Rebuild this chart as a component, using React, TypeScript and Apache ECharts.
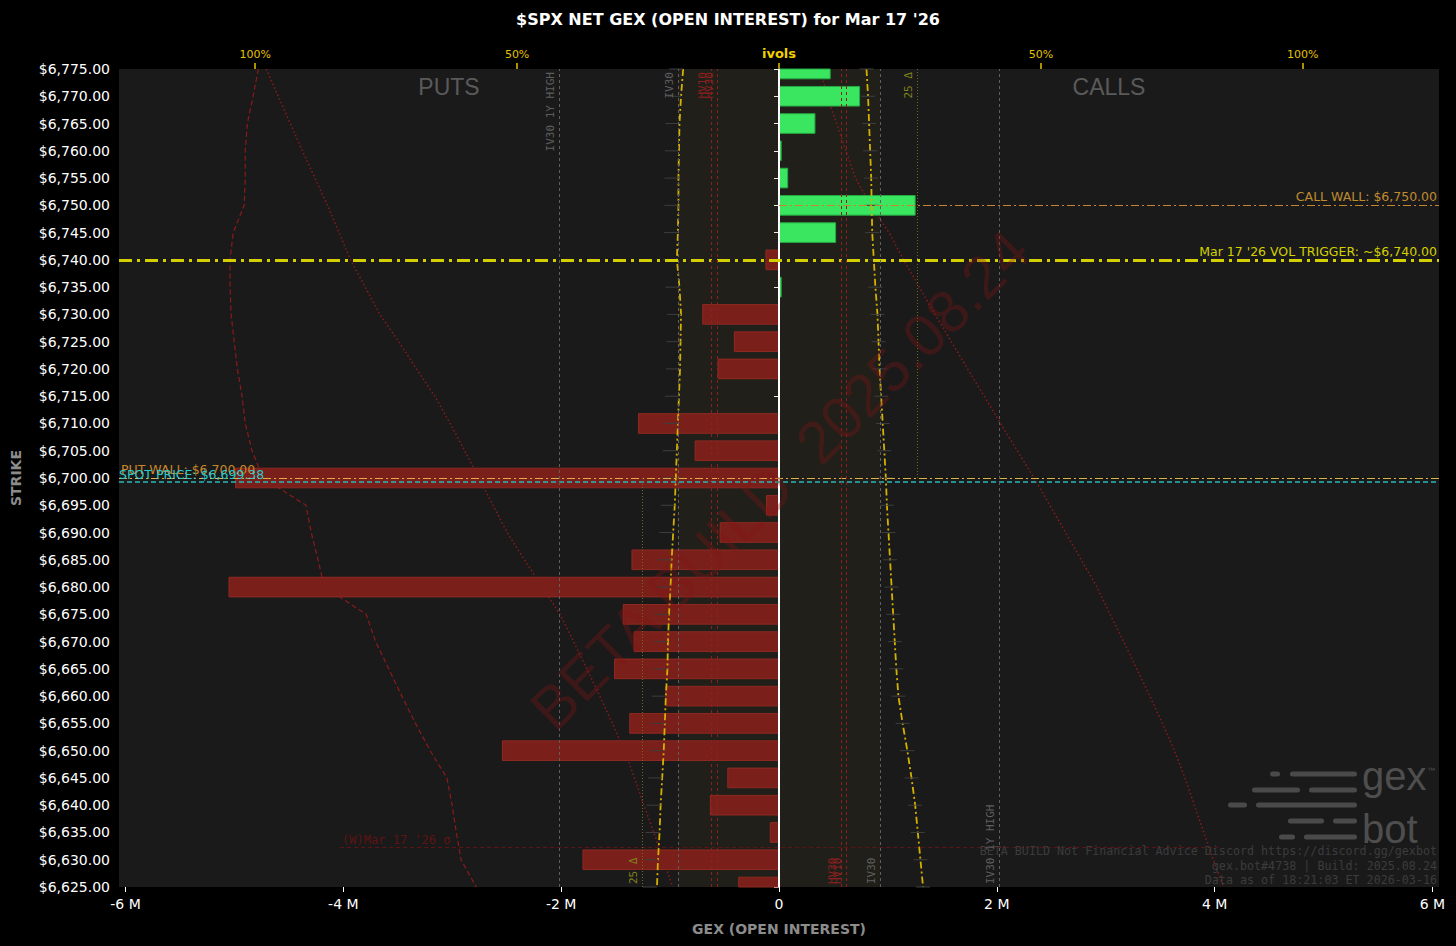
import { useEffect, useRef } from 'react'
import * as echarts from 'echarts'

// strikes, top to bottom
const strikes = [
  6775, 6770, 6765, 6760, 6755, 6750, 6745, 6740, 6735, 6730, 6725, 6720, 6715, 6710, 6705, 6700,
  6695, 6690, 6685, 6680, 6675, 6670, 6665, 6660, 6655, 6650, 6645, 6640, 6635, 6630, 6625,
]

// net GEX per strike (millions)
const netGex = [
  0.47, 0.74, 0.33, 0.02, 0.08, 1.25, 0.52, -0.12, 0.02, -0.7, -0.41, -0.56, 0, -1.29, -0.77, -4.99,
  -0.115, -0.54, -1.35, -5.05, -1.43, -1.33, -1.51, -1.04, -1.37, -2.54, -0.47, -0.63, -0.08, -1.8, -0.37,
]

// ivols (%), put side is drawn to the left
const putIvOuter = [
  99.4, 100.4, 101.5, 101.9, 101.9, 102.1, 104.2, 104.8, 104.8, 104.6, 104.0, 103.4, 102.5, 101.9, 100.6, 98.5,
  90.3, 89.3, 88.0, 86.8, 78.8, 77.0, 74.5, 72.0, 69.4, 66.6, 63.4, 62.4, 61.6, 60.7, 57.8,
]
const putSkew = [
  97.9, 95.6, 93.3, 91.0, 88.6, 86.2, 84.0, 81.8, 79.0, 76.2, 72.6, 69.2, 65.7, 62.8, 60.0, 57.3,
  54.6, 51.9, 48.6, 45.2, 41.8, 39.2, 36.7, 34.2, 31.8, 29.5, 27.6, 25.8, 23.9, 22.1, 20.3,
]
const callSkew = [
  7.9, 9.2, 11.0, 12.8, 14.6, 17.5, 21.0, 23.8, 26.8, 29.8, 32.9, 36.0, 39.2, 42.3, 45.5, 48.7,
  51.7, 54.7, 57.7, 60.7, 63.2, 65.8, 68.3, 70.8, 73.2, 75.5, 77.5, 79.3, 81.1, 82.9, 84.9,
]
const putIv30 = [
  18.3, 18.7, 19.0, 19.1, 19.2, 19.2, 19.3, 19.5, 19.0, 18.7, 18.8, 18.9, 19.1, 19.3, 19.5, 19.7,
  19.9, 20.2, 20.5, 20.7, 21.0, 21.2, 21.3, 21.6, 21.8, 22.0, 22.3, 22.6, 22.8, 23.1, 23.3,
]
const callIv30 = [
  16.7, 17.0, 17.2, 17.4, 17.6, 17.7, 17.8, 18.1, 18.4, 18.8, 19.0, 19.2, 19.5, 19.8, 20.1, 20.4,
  20.6, 20.9, 21.2, 21.5, 21.8, 22.1, 22.4, 22.8, 23.6, 24.5, 25.3, 26.0, 26.5, 27.0, 27.5,
]

// levels
const spotPrice = 6699.38
const volTrigger = 6740
const callWall = 6750
const putWall = 6700
const weeklySigma = 6632.2
const sigmaReach = 4.03 // M

// vertical ivol references (%)
const iv30High = [-42, 42]
const iv30 = [-19.2, 19.3]
const hvLevels = [-13.0, -11.7, 11.8, 12.8]
const delta25 = [-26.2, 26.3]

const gexTicks = [-6, -4, -2, 0, 2, 4, 6]
const ivolTicks = [-100, -50, 0, 50, 100]

const GEX_MAX = 6.06
const IVOL_MAX = 126

const money = (v: number) =>
  '$' + v.toLocaleString('en-US', { minimumFractionDigits: 2, maximumFractionDigits: 2 })

const MONO = '"DejaVu Sans Mono", monospace'

function vLine(x: number, label: string, color: string, atTop: boolean, type: any = [3, 3]) {
  return {
    xAxis: x,
    lineStyle: { color, width: 1, type },
    label: {
      show: true,
      formatter: label,
      position: atTop ? 'insideEndTop' : 'insideStartTop',
      color,
      fontSize: 11,
      fontFamily: MONO,
      distance: 3,
    },
  }
}

export default function App() {
  const chartRef = useRef<HTMLDivElement>(null)

  useEffect(() => {
    document.body.style.margin = '0'
    document.body.style.background = '#000'
    if (!chartRef.current) return
    const chart = echarts.init(chartRef.current, undefined, { renderer: 'svg' })

    const barData = strikes.map((s, i) => [netGex[i], s])
    const line = (vals: number[], sign: number) => strikes.map((s, i) => [sign * vals[i], s])

    const logoBars = [
      [774, 1270, 1280], [774, 1290, 1357],
      [790, 1252, 1300], [790, 1309, 1357],
      [805, 1228, 1247], [805, 1256, 1357],
      [821, 1288, 1324], [821, 1333, 1357],
      [837, 1279, 1295], [837, 1304, 1357],
    ]

    chart.setOption({
      animation: false,
      backgroundColor: '#000',
      textStyle: { fontFamily: '"DejaVu Sans", sans-serif' },
      title: {
        text: "$SPX NET GEX (OPEN INTEREST) for Mar 17 '26",
        left: 'center',
        top: 6,
        textStyle: { color: '#fff', fontSize: 16, fontWeight: 'bold' },
      },
      grid: {
        left: 119,
        right: 17,
        top: 69,
        bottom: 59,
        show: true,
        backgroundColor: '#1a1a1a',
        borderWidth: 0,
      },
      xAxis: [
        {
          type: 'value',
          min: -GEX_MAX,
          max: GEX_MAX,
          name: 'GEX (OPEN INTEREST)',
          nameLocation: 'middle',
          nameGap: 35,
          nameTextStyle: { color: '#8c8c8c', fontSize: 14, fontWeight: 'bold' },
          axisLine: { show: false },
          axisTick: { show: true, customValues: gexTicks, length: 5, lineStyle: { color: '#fff' } },
          axisLabel: {
            customValues: gexTicks,
            color: '#fff',
            fontSize: 14,
            margin: 10,
            formatter: (v: number) => (v === 0 ? '0' : `${v} M`),
          },
          splitLine: { show: false },
        },
        {
          type: 'value',
          position: 'top',
          min: -IVOL_MAX,
          max: IVOL_MAX,
          axisLine: { show: false },
          axisTick: { show: true, customValues: ivolTicks, length: 6, lineStyle: { color: '#e6c200', width: 1.5 } },
          axisLabel: {
            customValues: ivolTicks,
            color: '#e6c200',
            fontSize: 11,
            margin: 9,
            formatter: (v: number) => (v === 0 ? '{b|ivols}' : `${Math.abs(v)}%`),
            rich: { b: { color: '#f2d000', fontSize: 13, fontWeight: 'bold' } },
          },
          splitLine: { show: false },
        },
      ],
      yAxis: {
        type: 'value',
        min: 6625,
        max: 6775,
        interval: 5,
        name: 'STRIKE',
        nameLocation: 'middle',
        nameGap: 96,
        nameTextStyle: { color: '#8c8c8c', fontSize: 14, fontWeight: 'bold' },
        axisLine: { show: false },
        axisTick: { show: true, length: 5, lineStyle: { color: '#fff' } },
        axisLabel: { color: '#fff', fontSize: 14, margin: 9, formatter: money },
        splitLine: { show: false },
      },
      series: [
        {
          name: 'net gex',
          type: 'custom',
          xAxisIndex: 0,
          yAxisIndex: 0,
          z: 3,
          data: barData,
          encode: { x: 0, y: 1 },
          renderItem: (params: any, api: any) => {
            const v = api.value(0)
            const s = api.value(1)
            const p0 = api.coord([0, s])
            const p1 = api.coord([v, s])
            const h = api.size([0, 3.6])[1]
            const cs = params.coordSys
            const top = Math.max(p0[1] - h / 2, cs.y)
            const bottom = Math.min(p0[1] + h / 2, cs.y + cs.height)
            const pos = v >= 0
            return {
              type: 'rect',
              shape: {
                x: Math.min(p0[0], p1[0]),
                y: top,
                width: Math.abs(p1[0] - p0[0]),
                height: bottom - top,
              },
              style: {
                fill: pos ? '#3ae65f' : '#7a1f1a',
                stroke: pos ? '#26a843' : '#8f2a22',
                lineWidth: 1,
              },
            }
          },
          markLine: {
            silent: true,
            symbol: ['none', 'none'],
            data: [
              {
                xAxis: 0,
                lineStyle: { color: '#fff', width: 2, type: 'solid' },
                label: { show: false },
              },
              {
                yAxis: volTrigger,
                lineStyle: { color: '#d4d000', width: 3, type: [13, 5, 3, 5] },
                label: {
                  show: true,
                  position: 'insideEndTop',
                  formatter: "Mar 17 '26 VOL TRIGGER: ~$6,740.00",
                  color: '#d4d000',
                  fontSize: 12.5,
                  distance: 2,
                },
              },
              [
                {
                  coord: [0, callWall],
                  lineStyle: { color: '#c8862a', width: 1, type: [8, 3, 2, 3] },
                  label: {
                    show: true,
                    position: 'insideEndTop',
                    formatter: 'CALL WALL: $6,750.00',
                    color: '#c08a30',
                    fontSize: 12.5,
                    distance: 2,
                  },
                },
                { coord: [GEX_MAX, callWall] },
              ],
              {
                yAxis: putWall,
                lineStyle: { color: '#e0b040', width: 1.2, type: [8, 3, 2, 3] },
                label: {
                  show: true,
                  position: 'insideStartTop',
                  formatter: 'PUT WALL: $6,700.00',
                  color: '#c8862a',
                  fontSize: 12.5,
                  distance: 2,
                },
              },
              {
                yAxis: spotPrice,
                lineStyle: { color: '#2cb5bb', width: 1.5, type: [5, 3] },
                label: {
                  show: true,
                  position: 'insideStartTop',
                  formatter: 'SPOT PRICE: ' + money(spotPrice),
                  color: '#2ec8cc',
                  fontSize: 12.5,
                  distance: 0,
                },
              },
              [
                {
                  coord: [-sigmaReach, weeklySigma],
                  lineStyle: { color: '#5e1414', width: 1, type: [4, 3] },
                  label: {
                    show: true,
                    position: 'insideStartTop',
                    formatter: "(W)Mar 17 '26 σ",
                    color: '#5e1414',
                    fontSize: 12,
                    fontFamily: MONO,
                    distance: 2,
                  },
                },
                { coord: [sigmaReach, weeklySigma] },
              ],
              [
                {
                  coord: [-sigmaReach, weeklySigma],
                  lineStyle: { opacity: 0 },
                  label: {
                    show: true,
                    position: 'insideEndTop',
                    formatter: "(W)Mar 17 '26 σ",
                    color: '#5e1414',
                    fontSize: 12,
                    fontFamily: MONO,
                    distance: 2,
                  },
                },
                { coord: [sigmaReach, weeklySigma] },
              ],
            ],
          },
        },
        {
          name: 'put iv outer',
          type: 'line',
          xAxisIndex: 1,
          yAxisIndex: 0,
          z: 2,
          showSymbol: false,
          data: line(putIvOuter, -1),
          lineStyle: { color: '#8b1a1a', width: 1.2, type: [5, 3] },
        },
        {
          name: 'put skew',
          type: 'line',
          xAxisIndex: 1,
          yAxisIndex: 0,
          z: 2,
          showSymbol: false,
          data: line(putSkew, -1),
          lineStyle: { color: '#8b1a1a', width: 1.5, type: [1.5, 2.5] },
        },
        {
          name: 'call skew',
          type: 'line',
          xAxisIndex: 1,
          yAxisIndex: 0,
          z: 2,
          showSymbol: false,
          data: line(callSkew, 1),
          lineStyle: { color: '#8b1a1a', width: 1.5, type: [1.5, 2.5] },
          markArea: {
            silent: true,
            itemStyle: { color: 'rgba(90,80,20,0.1)' },
            data: [[{ xAxis: iv30[0] }, { xAxis: iv30[1] }]],
          },
        },
        {
          name: 'put iv30',
          type: 'line',
          xAxisIndex: 1,
          yAxisIndex: 0,
          z: 4,
          showSymbol: true,
          symbol: 'rect',
          symbolSize: [14, 1],
          symbolOffset: [-7, 0],
          itemStyle: { color: '#3e3e3e' },
          data: line(putIv30, -1),
          lineStyle: { color: '#d4b000', width: 1.8, type: [7, 3, 2, 3] },
          markLine: {
            silent: true,
            symbol: ['none', 'none'],
            data: [
              vLine(iv30High[0], 'IV30 1Y HIGH', '#5f5f5f', true),
              vLine(iv30High[1], 'IV30 1Y HIGH', '#5f5f5f', false),
              vLine(iv30[0], 'IV30', '#5f5f5f', true),
              vLine(iv30[1], 'IV30', '#5f5f5f', false),
              vLine(hvLevels[0], 'HV10', '#8b2020', true),
              vLine(hvLevels[1], 'HV30', '#8b2020', true),
              vLine(hvLevels[2], 'HV30', '#8b2020', false),
              vLine(hvLevels[3], 'HV10', '#8b2020', false),
              [
                {
                  coord: [delta25[0], 6625],
                  lineStyle: { color: '#6e6e12', width: 1, type: [1, 2] },
                  label: {
                    show: true,
                    position: 'insideStartTop',
                    formatter: '25 Δ',
                    color: '#80801a',
                    fontSize: 11,
                    fontFamily: MONO,
                    distance: 3,
                  },
                },
                { coord: [delta25[0], putWall] },
              ],
              [
                {
                  coord: [delta25[1], putWall],
                  lineStyle: { color: '#6e6e12', width: 1, type: [1, 2] },
                  label: {
                    show: true,
                    position: 'insideEndTop',
                    formatter: '25 Δ',
                    color: '#80801a',
                    fontSize: 11,
                    fontFamily: MONO,
                    distance: 3,
                  },
                },
                { coord: [delta25[1], 6775] },
              ],
            ],
          },
        },
        {
          name: 'call iv30',
          type: 'line',
          xAxisIndex: 1,
          yAxisIndex: 0,
          z: 4,
          showSymbol: true,
          symbol: 'rect',
          symbolSize: [14, 1],
          itemStyle: { color: '#3e3e3e' },
          data: line(callIv30, 1),
          lineStyle: { color: '#d4b000', width: 1.8, type: [7, 3, 2, 3] },
        },
      ],
      graphic: [
        {
          type: 'text',
          x: 449,
          y: 87,
          silent: true,
          style: { text: 'PUTS', fill: '#5a5a5a', fontSize: 23, align: 'center', verticalAlign: 'middle' },
        },
        {
          type: 'text',
          x: 1109,
          y: 87,
          silent: true,
          style: { text: 'CALLS', fill: '#5a5a5a', fontSize: 23, align: 'center', verticalAlign: 'middle' },
        },
        {
          type: 'text',
          x: 780,
          y: 480,
          rotation: Math.PI / 4,
          silent: true,
          z: 50,
          style: {
            text: 'BETA BUILD  2025.08.24',
            fill: 'rgba(130,20,20,0.33)',
            fontSize: 60,
            align: 'center',
            verticalAlign: 'middle',
          },
        },
        {
          type: 'text',
          x: 1437,
          y: 851,
          silent: true,
          z: 50,
          style: {
            text: 'BETA BUILD Not Financial Advice Discord https://discord.gg/gexbot',
            fill: '#3c3c3c',
            fontSize: 11.7,
            fontFamily: MONO,
            align: 'right',
            verticalAlign: 'middle',
          },
        },
        {
          type: 'text',
          x: 1437,
          y: 866,
          silent: true,
          z: 50,
          style: {
            text: 'gex.bot#4738 | Build: 2025.08.24',
            fill: '#3c3c3c',
            fontSize: 11.7,
            fontFamily: MONO,
            align: 'right',
            verticalAlign: 'middle',
          },
        },
        {
          type: 'text',
          x: 1437,
          y: 880,
          silent: true,
          z: 50,
          style: {
            text: 'Data as of 18:21:03 ET 2026-03-16',
            fill: '#3c3c3c',
            fontSize: 11.7,
            fontFamily: MONO,
            align: 'right',
            verticalAlign: 'middle',
          },
        },
        // gexbot logo
        ...logoBars.map(([y, x0, x1]) => ({
          type: 'rect',
          silent: true,
          z: 40,
          shape: { x: x0, y: y - 2.5, width: x1 - x0, height: 5, r: 2.5 },
          style: { fill: '#4a4a4a' },
        })),
        {
          type: 'text',
          x: 1362,
          y: 796,
          silent: true,
          z: 40,
          style: { text: 'gex', fill: '#4e4e4e', fontSize: 40, align: 'left', verticalAlign: 'bottom' },
        },
        {
          type: 'text',
          x: 1362,
          y: 849,
          silent: true,
          z: 40,
          style: { text: 'bot', fill: '#4e4e4e', fontSize: 40, align: 'left', verticalAlign: 'bottom' },
        },
        {
          type: 'text',
          x: 1431,
          y: 770,
          silent: true,
          z: 40,
          style: { text: '™', fill: '#4e4e4e', fontSize: 8, align: 'center', verticalAlign: 'middle' },
        },
      ],
    })

    return () => {
      chart.dispose()
    }
  }, [])

  return <div ref={chartRef} style={{ width: 1456, height: 946 }} />
}
